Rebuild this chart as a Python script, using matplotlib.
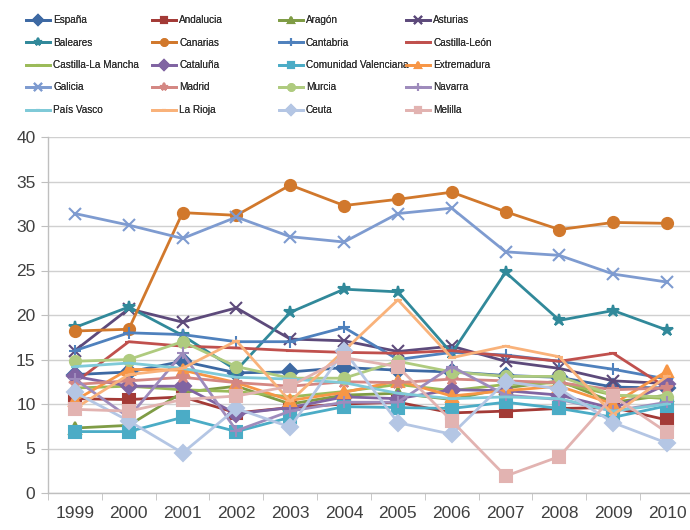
import matplotlib
matplotlib.use("Agg")
import matplotlib.pyplot as plt
import numpy as np

plt.rcParams['font.family'] = ['Liberation Sans', 'DejaVu Sans']

years = [1999, 2000, 2001, 2002, 2003, 2004, 2005, 2006, 2007, 2008, 2009, 2010]

espana = [13.3, 13.6, 14.8, 13.5, 13.6, 14.1, 13.8, 13.6, 13.2, 13.0, 11.9, 11.8]
andalucia = [10.6, 10.5, 10.8, 9.0, 9.6, 10.0, 10.2, 9.0, 9.2, 9.5, 9.6, 8.2]
aragon = [7.3, 7.6, 11.3, 12.0, 10.0, 11.0, 11.2, 10.5, 11.8, 12.6, 10.2, 11.0]
asturias = [16.0, 20.7, 19.2, 20.8, 17.3, 17.1, 15.9, 16.5, 14.8, 14.0, 12.6, 12.3]
baleares = [18.6, 20.9, 17.7, 13.8, 20.3, 22.9, 22.6, 15.7, 24.8, 19.4, 20.5, 18.3]
canarias = [18.2, 18.4, 31.5, 31.2, 34.6, 32.3, 33.0, 33.8, 31.6, 29.6, 30.4, 30.3]
cantabria = [16.0, 18.0, 17.8, 17.0, 17.0, 18.6, 15.0, 15.8, 15.5, 14.8, 13.9, 12.8]
castilla_leon = [12.4, 17.0, 16.5, 16.3, 16.0, 15.8, 15.7, 16.0, 15.4, 14.8, 15.7, 11.8]
castilla_mancha = [11.8, 12.0, 11.6, 11.4, 10.8, 11.4, 12.2, 11.5, 12.2, 12.4, 11.0, 10.6]
cataluna = [13.1, 12.0, 12.0, 8.9, 9.6, 10.8, 10.6, 11.6, 11.5, 11.0, 9.5, 12.2]
valenciana = [6.9, 6.9, 8.5, 6.9, 8.5, 9.7, 9.6, 9.5, 10.2, 9.5, 8.5, 9.8]
extremadura = [10.4, 13.9, 13.8, 12.4, 10.4, 11.3, 12.6, 10.9, 11.5, 12.0, 10.0, 13.7]
galicia = [31.4, 30.1, 28.6, 31.0, 28.8, 28.2, 31.4, 32.0, 27.1, 26.7, 24.6, 23.7]
madrid = [12.2, 12.6, 13.0, 12.4, 12.0, 12.5, 12.4, 12.8, 12.6, 12.4, 11.6, 11.8]
murcia = [14.8, 15.0, 17.0, 14.2, 12.9, 12.9, 14.8, 13.6, 13.1, 13.1, 11.0, 10.8]
navarra = [12.8, 8.5, 15.7, 7.0, 9.2, 10.2, 10.2, 14.2, 11.0, 10.5, 9.2, 10.2]
pais_vasco = [14.2, 14.6, 14.0, 13.0, 12.8, 12.4, 11.2, 10.6, 10.8, 10.6, 9.2, 10.0]
la_rioja = [9.5, 13.3, 14.0, 17.1, 10.3, 16.0, 21.7, 15.2, 16.5, 15.3, 8.8, 13.1]
ceuta = [11.3, 8.1, 4.5, 9.5, 7.4, 16.0, 7.9, 6.6, 12.5, 11.7, 7.9, 5.6]
melilla = [9.4, 9.2, 10.5, 10.9, 12.0, 15.2, 14.2, 8.1, 1.9, 4.1, 10.9, 6.8]

labels = ["España", "Andalucia", "Aragón", "Asturias", "Baleares", "Canarias",
          "Cantabria", "Castilla-León", "Castilla-La Mancha", "Cataluña",
          "Comunidad Valenciana", "Extremadura", "Galicia", "Madrid", "Murcia",
          "Navarra", "País Vasco", "La Rioja", "Ceuta", "Melilla"]
series = [espana, andalucia, aragon, asturias, baleares, canarias, cantabria,
          castilla_leon, castilla_mancha, cataluna, valenciana, extremadura,
          galicia, madrid, murcia, navarra, pais_vasco, la_rioja, ceuta, melilla]

colors = ["#3D69A3", "#A33A36", "#7F9C45", "#5D4A7B", "#31899A", "#D1782C",
          "#4F81BD", "#C0504D", "#9BBB59", "#8064A2", "#4BACC6", "#F79646",
          "#7E9BD0", "#D48783", "#AFCB7F", "#9E8BBC", "#7FCAD8", "#F9B27A",
          "#B4C6E4", "#E2B3B1"]
markers = ["D", "s", "^", "x", "*", "o", "+", "_", "_", "D", "s", "^",
           "x", "*", "o", "+", "_", "_", "D", "s"]

fig = plt.figure(figsize=(6.9, 5.3), dpi=100)
ax = fig.add_axes([48/690, 37/530, 646/690, 356/530])

x = np.arange(len(years))
handles = []
for vals, lab, col, mk in zip(series, labels, colors, markers):
    ms = 8
    if mk in ("x", "+", "*"):
        ms = 9
    if mk == "_":
        ms = 6
    h, = ax.plot(x, vals, color=col, lw=2.0, marker=mk, markersize=ms,
                 markeredgewidth=1.5, markerfacecolor=col, markeredgecolor=col,
                 label=lab, clip_on=False)
    handles.append(h)

ax.set_ylim(0, 40)
ax.set_xlim(-0.5, len(years) - 0.5)
ax.set_yticks(np.arange(0, 41, 5))
ax.set_xticks(x)
ax.set_xticklabels([str(y) for y in years])
ax.set_xticks(np.arange(-0.5, len(years), 1), minor=True)
ax.yaxis.grid(True, color="#D0D0D0", lw=1.0)
ax.set_axisbelow(True)
for s in ["top", "right"]:
    ax.spines[s].set_visible(False)
for s in ["left", "bottom"]:
    ax.spines[s].set_color("#BFBFBF")
    ax.spines[s].set_linewidth(1.0)
ax.tick_params(axis="both", which="major", labelsize=12.5, colors="#404040")
ax.tick_params(axis="x", which="major", length=0, pad=9)
ax.tick_params(axis="x", which="minor", length=5, color="#BFBFBF")
ax.tick_params(axis="y", length=5, color="#BFBFBF", pad=4)

col_x = [26/690, 152/690, 279/690, 406/690]
for c in range(4):
    hs = [handles[r * 4 + c] for r in range(5)]
    ls = [labels[r * 4 + c] for r in range(5)]
    leg = fig.legend(hs, ls, loc="upper left", bbox_to_anchor=(col_x[c], 1 - 15/530),
                     frameon=False, handlelength=2.4, handletextpad=0.3,
                     labelspacing=1.25, borderpad=0, borderaxespad=0, markerscale=0.6,
                     prop={"family": ["Liberation Sans", "DejaVu Sans"], "size": 7.2})
    for t in leg.get_texts():
        t.set_color("#303030")
    fig.add_artist(leg)

fig.savefig("out.png", dpi=100)
